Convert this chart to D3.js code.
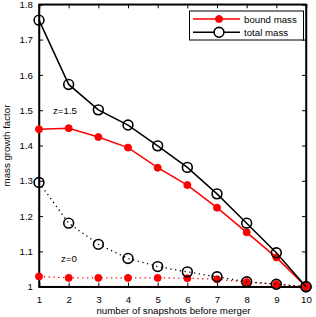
<!DOCTYPE html>
<html><head><meta charset="utf-8">
<script src="https://cdn.jsdelivr.net/npm/d3@7"></script>
<style>body{margin:0;background:#fff}svg{display:block;font-family:"Liberation Sans",Arial,sans-serif}</style>
</head><body><svg id="c" width="316" height="317"></svg>
<script>
const snapshots = [1,2,3,4,5,6,7,8,9,10];
const boundZ15 = [1.446,1.449,1.424,1.394,1.337,1.288,1.224,1.154,1.083,1.0];
const totalZ15 = [1.755,1.573,1.501,1.458,1.399,1.338,1.263,1.180,1.096,1.0];
const boundZ0  = [1.029,1.025,1.025,1.025,1.025,1.024,1.021,1.013,1.007,1.0];
const totalZ0  = [1.295,1.180,1.120,1.080,1.057,1.042,1.028,1.014,1.007,1.0];
const xTicks = [1,2,3,4,5,6,7,8,9,10];
const yTicks = [1,1.1,1.2,1.3,1.4,1.5,1.6,1.7,1.8];
const yTickLabels = ["1","1.1","1.2","1.3","1.4","1.5","1.6","1.7","1.8"];

const svg = d3.select("#c");
const L=39,R=306,T=4.3,B=286.7;
const FS=9.7;
const x = d3.scaleLinear().domain([1,10]).range([L,R]);
const y = d3.scaleLinear().domain([1,1.8]).range([B,T]);
const line = d3.line().x((d,i)=>x(snapshots[i])).y(d=>y(d));

svg.append("rect").attr("x",L).attr("y",T).attr("width",R-L).attr("height",B-T)
  .attr("fill","none").attr("stroke","#000").attr("stroke-width",1.5);

const ax = svg.append("g").attr("transform",`translate(0,${B})`)
  .call(d3.axisBottom(x).tickValues(xTicks).tickSize(-4).tickPadding(9).tickFormat(d3.format("d")));
const ay = svg.append("g").attr("transform",`translate(${L},0)`)
  .call(d3.axisLeft(y).tickValues(yTicks).tickSize(-4).tickPadding(6).tickFormat((d,i)=>yTickLabels[i]));
const axT = svg.append("g").attr("transform",`translate(0,${T})`)
  .call(d3.axisTop(x).tickValues(xTicks).tickSize(-4).tickFormat(""));
const ayR = svg.append("g").attr("transform",`translate(${R},0)`)
  .call(d3.axisRight(y).tickValues(yTicks).tickSize(-4).tickFormat(""));
[ax,ay,axT,ayR].forEach(g=>{
  g.select(".domain").attr("stroke","#000").attr("stroke-width",1.5);
  g.selectAll(".tick line").attr("stroke","#000");
  g.selectAll("text").attr("font-size",FS).attr("fill","#000").attr("font-family","Liberation Sans, Arial, sans-serif");
});

svg.append("text").attr("x",(L+R)/2+1).attr("y",314).attr("text-anchor","middle")
  .attr("font-size",FS).text("number of snapshots before merger");
svg.append("text").attr("transform",`translate(10,${(T+B)/2}) rotate(-90)`).attr("text-anchor","middle")
  .attr("font-size",FS).text("mass growth factor");

function series(data,color,dash,filled){
  svg.append("path").datum(data).attr("d",line).attr("fill","none")
    .attr("stroke",color).attr("stroke-width",dash?1.3:1.5).attr("stroke-dasharray",dash||null);
  svg.append("g").selectAll("circle").data(data).join("circle")
    .attr("cx",(d,i)=>x(snapshots[i])).attr("cy",d=>y(d))
    .attr("r",filled?3.5:4.9)
    .attr("fill",filled?"#ff0000":"none").attr("stroke",filled?"#ff0000":"#000").attr("stroke-width",filled?1:1.6);
}
series(boundZ0,"#ff0000","1.3,3.5",true);
series(totalZ0,"#000","1.3,3.5",false);
series(boundZ15,"#ff0000",null,true);
series(totalZ15,"#000",null,false);

svg.append("text").attr("x",53).attr("y",114).attr("font-size",FS).text("z=1.5");
svg.append("text").attr("x",61).attr("y",262).attr("font-size",FS).text("z=0");

const lg = svg.append("g");
lg.append("rect").attr("x",189.5).attr("y",11).attr("width",114).attr("height",29)
  .attr("fill","#fff").attr("stroke","#000").attr("stroke-width",1);
const items=[{t:"bound mass",c:"#ff0000",f:true},{t:"total mass",c:"#000",f:false}];
items.forEach((it,i)=>{
  const yy = 19+i*13.3;
  lg.append("line").attr("x1",193).attr("x2",240).attr("y1",yy).attr("y2",yy).attr("stroke",it.c).attr("stroke-width",1.5);
  lg.append("circle").attr("cx",219).attr("cy",yy).attr("r",it.f?3.5:4.9)
    .attr("fill",it.f?"#ff0000":"#fff").attr("stroke",it.c).attr("stroke-width",it.f?1:1.6);
  lg.append("text").attr("x",244).attr("y",yy+3.5).attr("font-size",FS).text(it.t);
});
</script></body></html>
